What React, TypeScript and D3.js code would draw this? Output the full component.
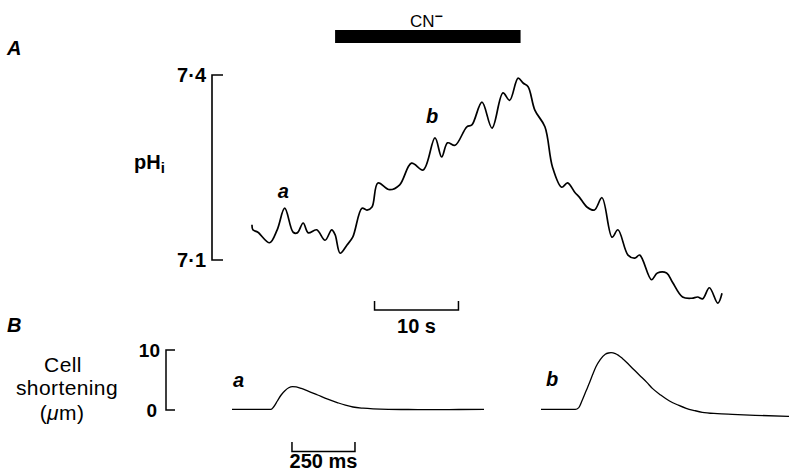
import React, { useEffect, useRef } from 'react';
import * as d3 from 'd3';

// Panel A: intracellular pH vs time (s)
const phTime = [0, 0.1, 0.7, 2.1, 3.0, 3.9, 4.9, 5.4, 6.1, 6.7, 7.7, 8.7, 9.5, 9.9, 10.5, 11.3, 12.0, 13.1, 13.7, 14.3, 15.0, 16.4, 17.6, 19.0, 20.4, 21.8, 22.6, 23.3, 24.2, 25.6, 26.2, 27.4, 28.6, 29.9, 30.7, 31.7, 32.3, 32.9, 33.7, 34.9, 35.8, 36.9, 37.6, 38.5, 39.0, 39.9, 40.8, 41.7, 42.9, 43.6, 44.8, 45.6, 46.2, 47.6, 48.3, 49.4, 50.1, 51.3, 52.4, 53.1, 53.7, 54.5, 55.5, 56.0];
const phValues = [7.157, 7.149, 7.145, 7.128, 7.149, 7.184, 7.145, 7.144, 7.160, 7.144, 7.149, 7.132, 7.149, 7.141, 7.111, 7.124, 7.137, 7.184, 7.181, 7.186, 7.225, 7.214, 7.222, 7.257, 7.246, 7.298, 7.267, 7.290, 7.286, 7.316, 7.319, 7.356, 7.314, 7.371, 7.359, 7.395, 7.387, 7.381, 7.343, 7.316, 7.251, 7.218, 7.225, 7.209, 7.202, 7.186, 7.181, 7.201, 7.137, 7.149, 7.108, 7.103, 7.108, 7.068, 7.079, 7.079, 7.064, 7.040, 7.038, 7.040, 7.037, 7.055, 7.030, 7.046];
const phTicks = [7.1, 7.4];
const cyanide = [9.9, 32]; // s
const timeBar = [14.6, 24.6]; // 10 s
const markA = { label: 'a', t: 3.9 };
const markB = { label: 'b', t: 21.8 };

// Panel B: cell shortening (um) vs time (ms)
const twitchATime = [0, 155, 165, 180, 195, 210, 225, 240, 255, 275, 300, 340, 380, 420, 450, 480, 520, 560, 620, 700, 800, 900, 1000];
const twitchAValues = [0.12, 0.12, 0.5, 1.5, 2.5, 3.2, 3.7, 3.9, 3.85, 3.6, 3.2, 2.5, 1.8, 1.2, 0.8, 0.5, 0.3, 0.18, 0.1, 0.08, 0.05, 0.08, 0.1];
const twitchBTime = [0, 136, 150, 164, 180, 192, 205, 218, 235, 255, 268, 278, 295, 323, 355, 390, 420, 442, 475, 510, 545, 576, 610, 640, 700, 759, 850, 981, 1000];
const twitchBValues = [0.12, 0.12, 0.4, 1.67, 3.3, 4.5, 5.9, 7.2, 8.4, 9.3, 9.5, 9.55, 9.4, 8.6, 7.3, 5.83, 4.6, 3.6, 2.5, 1.5, 0.8, 0.28, -0.1, -0.38, -0.6, -0.72, -0.88, -1.05, -1.07];
const shortTicks = [0, 10];
const msBar = [238, 488]; // 250 ms

const FONT = '"Liberation Sans", Arial, Helvetica, sans-serif';

const App = () => {
  const svgRef = useRef<SVGSVGElement>(null);

  useEffect(() => {
    if (!svgRef.current) return;
    const svg = d3.select(svgRef.current);
    svg.selectAll('*').remove();

    const x = d3.scaleLinear().domain([0, 56]).range([252, 722]);
    const y = d3.scaleLinear().domain([7.1, 7.4]).range([260, 75]);

    const line = d3.line<[number, number]>()
      .x(d => x(d[0]))
      .y(d => y(d[1]))
      .curve(d3.curveCatmullRom.alpha(0.5));

    const label = (tx: number, ty: number, s: string, size = 20, weight = 'bold', italic = false) =>
      svg.append('text').attr('x', tx).attr('y', ty).text(s)
        .attr('font-family', FONT).attr('font-size', size).attr('font-weight', weight)
        .attr('font-style', italic ? 'italic' : 'normal');

    // panel letters
    label(7, 55, 'A', 20, 'bold', true);
    label(7, 332, 'B', 20, 'bold', true);

    // CN- bar
    svg.append('rect')
      .attr('x', x(cyanide[0])).attr('y', 30)
      .attr('width', x(cyanide[1]) - x(cyanide[0])).attr('height', 13)
      .attr('fill', '#000');
    const cn = svg.append('text')
      .attr('x', 410).attr('y', 27)
      .attr('font-family', FONT).attr('font-size', 17);
    cn.append('tspan').text('CN');
    cn.append('tspan').attr('dy', -6).attr('font-size', 14).attr('font-weight', 'bold').text('\u2212');

    // pH bracket axis
    const axX = 212;
    svg.append('path')
      .attr('d', `M${axX + 11},${y(7.4)}H${axX}V${y(7.1)}H${axX + 11}`)
      .attr('fill', 'none').attr('stroke', '#000').attr('stroke-width', 1.6);
    svg.selectAll('.phtick').data(phTicks).enter().append('text')
      .attr('x', axX - 6).attr('y', d => y(d) + 7)
      .attr('text-anchor', 'end')
      .attr('font-family', FONT).attr('font-size', 20).attr('font-weight', 'bold')
      .text(d => d.toFixed(1).replace('.', '\u00b7'));
    const phl = svg.append('text').attr('x', 134).attr('y', 169)
      .attr('font-family', FONT).attr('font-size', 20).attr('font-weight', 'bold');
    phl.append('tspan').text('pH');
    phl.append('tspan').attr('dy', 4).attr('font-size', 15).text('i');

    // pH trace
    const phData = phTime.map((t, i) => [t, phValues[i]] as [number, number]);
    svg.append('path').attr('d', line(phData))
      .attr('fill', 'none').attr('stroke', '#000').attr('stroke-width', 1.7);

    label(x(markA.t) - 7, 198, markA.label, 20, 'bold', true);
    label(x(markB.t) - 9, 123, markB.label, 20, 'bold', true);

    // 10 s scale bar
    svg.append('path')
      .attr('d', `M${x(timeBar[0])},301V310H${x(timeBar[1])}V301`)
      .attr('fill', 'none').attr('stroke', '#000').attr('stroke-width', 1.5);
    label((x(timeBar[0]) + x(timeBar[1])) / 2, 333, '10 s').attr('text-anchor', 'middle');

    // Panel B
    const ys = d3.scaleLinear().domain([0, 10]).range([410, 350]);
    const xa = d3.scaleLinear().domain([0, 1000]).range([232, 484]);
    const xb = d3.scaleLinear().domain([0, 1000]).range([541, 793]);

    const bx = 166;
    svg.append('path')
      .attr('d', `M${bx + 9},${ys(10)}H${bx}V${ys(0)}H${bx + 9}`)
      .attr('fill', 'none').attr('stroke', '#000').attr('stroke-width', 1.5);
    svg.selectAll('.stick').data(shortTicks).enter().append('text')
      .attr('x', d => (d === 0 ? bx - 9 : bx - 6)).attr('y', d => ys(d) + 7)
      .attr('text-anchor', 'end')
      .attr('font-family', FONT).attr('font-size', 19).attr('font-weight', 'bold')
      .text(d => String(d));

    const lab = svg.append('text').attr('text-anchor', 'middle')
      .attr('font-family', FONT).attr('font-size', 21).attr('letter-spacing', 0.4);
    lab.append('tspan').attr('x', 63).attr('y', 372).text('Cell');
    lab.append('tspan').attr('x', 67).attr('y', 395).text('shortening');
    lab.append('tspan').attr('x', 62).attr('y', 420).text('(');
    lab.append('tspan').attr('font-style', 'italic').text('\u03bc');
    lab.append('tspan').text('m)');

    const lineA = d3.line<[number, number]>()
      .x(d => xa(d[0])).y(d => ys(d[1])).curve(d3.curveMonotoneX);
    const lineB = d3.line<[number, number]>()
      .x(d => xb(d[0])).y(d => ys(d[1])).curve(d3.curveMonotoneX);
    svg.append('path')
      .attr('d', lineA(twitchATime.map((t, i) => [t, twitchAValues[i]] as [number, number])))
      .attr('fill', 'none').attr('stroke', '#000').attr('stroke-width', 1.3);
    svg.append('path')
      .attr('d', lineB(twitchBTime.map((t, i) => [t, twitchBValues[i]] as [number, number])))
      .attr('fill', 'none').attr('stroke', '#000').attr('stroke-width', 1.3);

    label(233, 387, 'a', 20, 'bold', true);
    label(546, 386, 'b', 20, 'bold', true);

    // 250 ms scale bar
    svg.append('path')
      .attr('d', `M${xa(msBar[0])},442V451.5H${xa(msBar[1])}V442`)
      .attr('fill', 'none').attr('stroke', '#000').attr('stroke-width', 1.5);
    label((xa(msBar[0]) + xa(msBar[1])) / 2, 468, '250 ms').attr('text-anchor', 'middle');
  }, []);

  return (
    <svg ref={svgRef} width={789} height={472}
      style={{ position: 'absolute', left: 0, top: 0, background: '#fff' }} />
  );
};

export default App;
